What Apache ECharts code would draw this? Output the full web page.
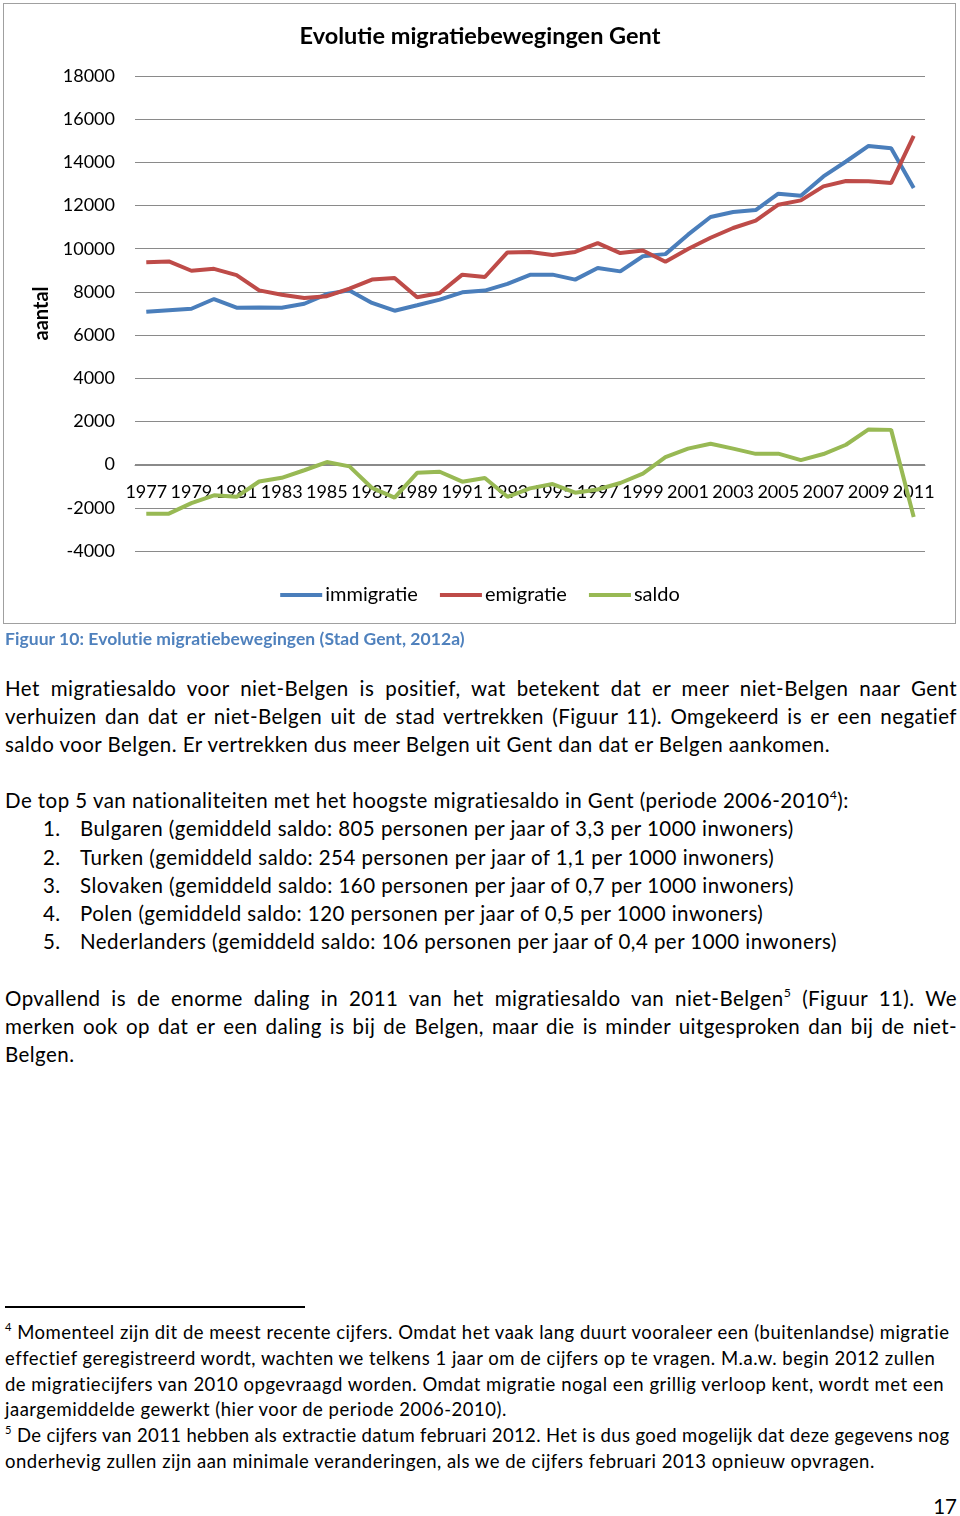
<!DOCTYPE html>
<html><head><meta charset="utf-8">
<script src="https://cdn.jsdelivr.net/npm/echarts@6/dist/echarts.min.js"></script>
<style>
html,body{margin:0;padding:0;background:#fff;}
body{width:960px;height:1516px;position:relative;overflow:hidden;font-family:Lato,"Open Sans",sans-serif;color:#000;}
#chart{position:absolute;left:0;top:0;width:960px;height:630px;}
#frame{position:absolute;left:3px;top:3px;width:951px;height:619px;border:1.5px solid #a0a0a0;pointer-events:none;}
.ln{position:absolute;left:5px;width:952px;white-space:nowrap;font-size:20.5px;letter-spacing:0.45px;line-height:28px;height:28px;}
.j{text-align:justify;text-align-last:justify;white-space:normal;}
.fn{font-size:18.5px;letter-spacing:0.5px;line-height:25px;height:25px;}
sup{font-size:60%;line-height:0;position:relative;top:-0.1em;}
.num{position:absolute;left:38px;}
.itm{position:absolute;left:75px;}
</style></head>
<body>
<div id="chart"></div>
<div id="frame"></div>
<div class="ln" style="top:625px;font-weight:bold;color:#4f81bd;font-size:17.5px;letter-spacing:0.05px;">Figuur 10: Evolutie migratiebewegingen (Stad Gent, 2012a)</div>

<div class="ln j" style="top:674px;">Het migratiesaldo voor niet-Belgen is positief, wat betekent dat er meer niet-Belgen naar Gent</div>
<div class="ln j" style="top:702px;">verhuizen dan dat er niet-Belgen uit de stad vertrekken (Figuur 11). Omgekeerd is er een negatief</div>
<div class="ln" style="top:730px;">saldo voor Belgen. Er vertrekken dus meer Belgen uit Gent dan dat er Belgen aankomen.</div>

<div class="ln" style="top:786px;">De top 5 van nationaliteiten met het hoogste migratiesaldo in Gent (periode 2006-2010<sup>4</sup>):</div>
<div class="ln" style="top:814px;"><span class="num">1.</span><span class="itm">Bulgaren (gemiddeld saldo: 805 personen per jaar of 3,3 per 1000 inwoners)</span></div>
<div class="ln" style="top:843px;"><span class="num">2.</span><span class="itm">Turken (gemiddeld saldo: 254 personen per jaar of 1,1 per 1000 inwoners)</span></div>
<div class="ln" style="top:871px;"><span class="num">3.</span><span class="itm">Slovaken (gemiddeld saldo: 160 personen per jaar of 0,7 per 1000 inwoners)</span></div>
<div class="ln" style="top:899px;"><span class="num">4.</span><span class="itm">Polen (gemiddeld saldo: 120 personen per jaar of 0,5 per 1000 inwoners)</span></div>
<div class="ln" style="top:927px;"><span class="num">5.</span><span class="itm">Nederlanders (gemiddeld saldo: 106 personen per jaar of 0,4 per 1000 inwoners)</span></div>

<div class="ln j" style="top:984px;">Opvallend is de enorme daling in 2011 van het migratiesaldo van niet-Belgen<sup>5</sup> (Figuur 11). We</div>
<div class="ln j" style="top:1012px;">merken ook op dat er een daling is bij de Belgen, maar die is minder uitgesproken dan bij de niet-</div>
<div class="ln" style="top:1040px;">Belgen.</div>

<div style="position:absolute;left:5px;top:1306px;width:300px;height:1.5px;background:#000;"></div>
<div class="ln fn" style="top:1320px;"><sup>4</sup> Momenteel zijn dit de meest recente cijfers. Omdat het vaak lang duurt vooraleer een (buitenlandse) migratie</div>
<div class="ln fn" style="top:1346px;">effectief geregistreerd wordt, wachten we telkens 1 jaar om de cijfers op te vragen. M.a.w. begin 2012 zullen</div>
<div class="ln fn" style="top:1372px;">de migratiecijfers van 2010 opgevraagd worden. Omdat migratie nogal een grillig verloop kent, wordt met een</div>
<div class="ln fn" style="top:1397px;">jaargemiddelde gewerkt (hier voor de periode 2006-2010).</div>
<div class="ln fn" style="top:1423px;letter-spacing:0.36px;"><sup>5</sup> De cijfers van 2011 hebben als extractie datum februari 2012. Het is dus goed mogelijk dat deze gegevens nog</div>
<div class="ln fn" style="top:1449px;">onderhevig zullen zijn aan minimale veranderingen, als we de cijfers februari 2013 opnieuw opvragen.</div>

<div class="ln" style="top:1492px;text-align:right;letter-spacing:0;">17</div>

<script>
var years = ['1977','1978','1979','1980','1981','1982','1983','1984','1985','1986','1987','1988','1989','1990','1991','1992','1993','1994','1995','1996','1997','1998','1999','2000','2001','2002','2003','2004','2005','2006','2007','2008','2009','2010','2011'];
var immigratie = [7080,7150,7220,7670,7270,7280,7270,7450,7900,8070,7490,7130,7380,7640,7980,8060,8370,8790,8800,8570,9110,8950,9650,9750,10650,11470,11700,11790,12550,12450,13350,14040,14760,14650,12810];
var emigratie = [9370,9410,8980,9070,8780,8070,7870,7720,7800,8150,8570,8640,7750,7950,8800,8690,9830,9850,9710,9850,10260,9800,9920,9400,9990,10510,10960,11300,12040,12240,12890,13140,13120,13040,15230];
var saldo = [-2280,-2270,-1780,-1420,-1490,-780,-610,-260,120,-80,-1080,-1530,-380,-330,-790,-620,-1490,-1100,-900,-1300,-1150,-850,-420,350,740,970,740,500,510,210,490,920,1630,1610,-2420];
var seriesNames = ['immigratie','emigratie','saldo'];
var colors = ['#4a7ebb','#be4b48','#98b954'];

var chart = echarts.init(document.getElementById('chart'));
var ff = 'Lato, "Open Sans", sans-serif';
chart.setOption({
  animation:false,
  textStyle:{fontFamily:ff},
  title:{text:'Evolutie migratiebewegingen Gent',left:'center',top:19,textStyle:{fontSize:23.5,fontWeight:'bold',color:'#000',fontFamily:ff}},
  grid:{left:135,right:35,top:76,bottom:79},
  legend:{data:seriesNames,top:580,left:'center',icon:'rect',itemWidth:42,itemHeight:4,itemGap:22,
    textStyle:{fontSize:20,color:'#000',fontFamily:ff,padding:[0,0,0,-2]}},
  xAxis:{type:'category',data:years,boundaryGap:true,offset:-86,
    axisLine:{onZero:false,lineStyle:{color:'#8a8a8a',width:1}},
    axisTick:{show:false},
    axisLabel:{interval:1,fontSize:18,color:'#000',margin:18,fontFamily:ff}},
  yAxis:{type:'value',min:-4000,max:18000,interval:2000,
    name:'aantal',nameLocation:'middle',nameGap:76,nameRotate:90,
    nameTextStyle:{fontSize:20,fontWeight:'bold',color:'#000',fontFamily:ff},
    axisLine:{show:false},axisTick:{show:false},
    axisLabel:{fontSize:18,color:'#000',margin:20,fontFamily:ff,formatter:function(v){return String(v);}},
    splitLine:{lineStyle:{color:'#8a8a8a',width:1}}},
  series:[
    {name:seriesNames[0],type:'line',data:immigratie,symbol:'none',lineStyle:{width:4,color:colors[0]},itemStyle:{color:colors[0]}},
    {name:seriesNames[1],type:'line',data:emigratie,symbol:'none',lineStyle:{width:4,color:colors[1]},itemStyle:{color:colors[1]}},
    {name:seriesNames[2],type:'line',data:saldo,symbol:'none',lineStyle:{width:4,color:colors[2]},itemStyle:{color:colors[2]}}
  ]
});
</script>
</body></html>
